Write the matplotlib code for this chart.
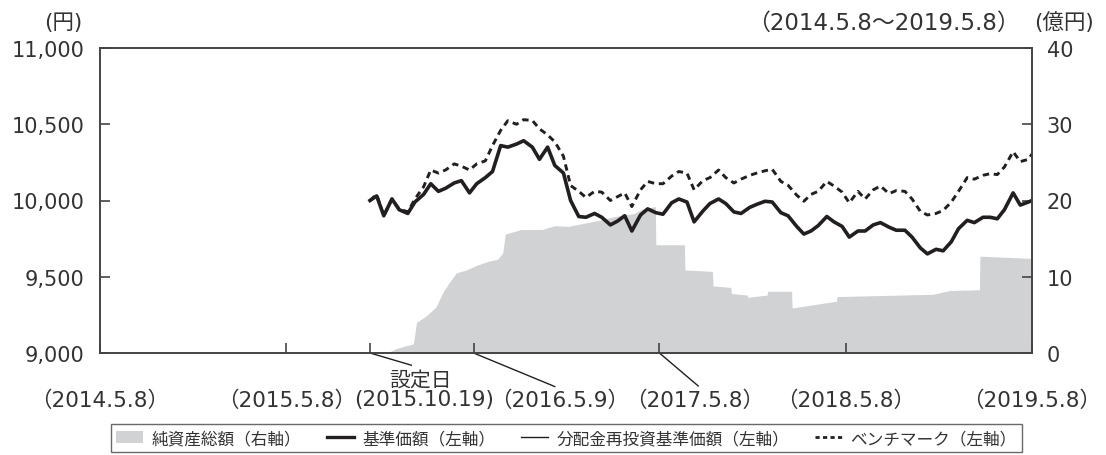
import matplotlib.pyplot as plt
from matplotlib.patches import Patch
from matplotlib.lines import Line2D
import pandas as pd

plt.rcParams["font.family"] = ["DejaVu Sans", "Noto Sans CJK JP"]

# semi-monthly sample dates between launch and the end of the period
price_dates = ([pd.Timestamp("2015-10-19")]
               + list(pd.date_range("2015-11-01", "2019-05-01", freq="SMS"))
               + [pd.Timestamp("2019-05-08")])

# 基準価額 (円)
base_price = [
    10000, 10030, 9900, 10010, 9940,
    9915, 9990, 10040, 10110, 10060, 10080, 10115, 10130, 10050, 10110, 10150, 10190,
    10360, 10350, 10370, 10392, 10350, 10270, 10350, 10230, 10180, 10000, 9895, 9890,
    9915, 9890, 9840, 9865, 9900, 9800, 9905, 9945, 9920, 9910, 9985, 10010,
    9990, 9860, 9930, 9980, 10010, 9980, 9925, 9915, 9955, 9975, 9995, 9990,
    9920, 9900, 9830, 9780, 9800, 9835, 9895, 9860, 9830, 9760, 9800, 9800,
    9840, 9855, 9825, 9805, 9805, 9760, 9690, 9650, 9680, 9670, 9730, 9815,
    9870, 9855, 9890, 9890, 9880, 9940, 10050, 9970, 9990, 10000,
]
# 分配金再投資基準価額 (no distributions -> same as base price)
reinvest_price = list(base_price)
# ベンチマーク
benchmark = [
    10000, 10040, 9900, 10010, 9945,
    9925, 10010, 10090, 10200, 10180, 10200, 10240, 10225, 10200, 10240, 10260, 10360,
    10460, 10523, 10500, 10530, 10525, 10470, 10430, 10385, 10290, 10098, 10060, 10020,
    10060, 10055, 10000, 10025, 10050, 9960, 10070, 10125, 10110, 10110, 10160, 10190,
    10180, 10070, 10130, 10150, 10200, 10150, 10115, 10140, 10165, 10180, 10195, 10205,
    10125, 10100, 10035, 9995, 10040, 10060, 10125, 10095, 10055, 9985, 10060, 10010,
    10070, 10095, 10045, 10065, 10060, 10010, 9930, 9905, 9915, 9935, 9990, 10060,
    10150, 10140, 10165, 10176, 10170, 10220, 10320, 10255, 10270, 10305,
]

# 純資産総額 (億円)
asset_dates = pd.to_datetime([
    "2015-10-19", "2015-11-25", "2015-12-10", "2016-01-12", "2016-01-18", "2016-02-05",
    "2016-02-25", "2016-03-10", "2016-03-25", "2016-04-05", "2016-04-25", "2016-05-15",
    "2016-06-05", "2016-06-25", "2016-07-05", "2016-07-10", "2016-08-10", "2016-09-20",
    "2016-10-15", "2016-11-10", "2016-12-10", "2017-01-10", "2017-02-10", "2017-03-20",
    "2017-04-05", "2017-04-30", "2017-05-01", "2017-06-26", "2017-06-27", "2017-08-20",
    "2017-08-21", "2017-09-25", "2017-09-26", "2017-10-27", "2017-10-28", "2017-12-05",
    "2017-12-06", "2018-01-22", "2018-01-23", "2018-04-20", "2018-04-21", "2018-10-26",
    "2018-11-28", "2019-01-25", "2019-01-26", "2019-05-08",
])
net_assets = [
    0, 0.1, 0.6, 1.2, 4.0, 4.8,
    6.0, 8.0, 9.5, 10.5, 10.9, 11.5,
    12.0, 12.3, 13.1, 15.6, 16.2, 16.2,
    16.7, 16.6, 17.0, 17.4, 17.9, 18.3,
    18.9, 19.2, 14.2, 14.2, 10.9, 10.7,
    8.8, 8.6, 7.8, 7.6, 7.3, 7.6,
    8.1, 8.1, 5.9, 6.8, 7.4, 7.7,
    8.2, 8.3, 12.7, 12.4,
]

tick_dates = pd.to_datetime(["2014-05-08", "2015-05-08", "2015-10-19", "2016-05-09",
                             "2017-05-08", "2018-05-08", "2019-05-08"])
tick_labels = ["（2014.5.8）", "（2015.5.8）", "(2015.10.19)", "（2016.5.9）",
               "（2017.5.8）", "（2018.5.8）", "（2019.5.8）"]

ink = "#231f20"
txt = "#333333"
gray = "#d1d2d4"

fig = plt.figure(figsize=(11.06, 4.56), dpi=100)
ax = fig.add_axes([100 / 1106, 1 - 354 / 456, 932 / 1106, 305 / 456])
ax2 = ax.twinx()

ax2.fill_between(asset_dates, net_assets, 0, color=gray, lw=0)
ax2.set_ylim(0, 40)
ax2.set_yticks([0, 10, 20, 30, 40])

ax.plot(price_dates, benchmark, color=ink, lw=2.1, ls=(0, (2.2, 1.6)))
ax.plot(price_dates, base_price, color=ink, lw=2.6)
ax.plot(price_dates, reinvest_price, color=ink, lw=1.0)
ax.set_zorder(ax2.get_zorder() + 1)
ax.patch.set_visible(False)

ax.set_ylim(9000, 11000)
ax.set_yticks([9000, 9500, 10000, 10500, 11000])
ax.set_yticklabels(["9,000", "9,500", "10,000", "10,500", "11,000"])
ax.set_xlim(tick_dates[0], tick_dates[-1])
ax.set_xticks(tick_dates)
ax.set_xticklabels([])

for a in (ax, ax2):
    for s in a.spines.values():
        s.set_color("#444444")
        s.set_linewidth(1.2)
ax.tick_params(axis="y", direction="in", length=7, width=1.2, color="#444444",
               labelsize=15, pad=11, labelcolor=txt)
ax2.tick_params(axis="y", direction="in", length=7, width=1.2, color="#444444",
                labelsize=15, pad=10.5, labelcolor=txt)
ax.tick_params(axis="x", direction="in", length=7, width=1.2, color="#444444")

# date labels under the axis, some moved aside with leader lines
label_x = pd.to_datetime(["2014-05-08", "2015-05-08", "2016-02-01", "2016-10-25",
                          "2017-07-15", "2018-05-08", "2019-05-08"])
for xd, lab in zip(label_x, tick_labels):
    ax.text(xd, -0.152, lab, transform=ax.get_xaxis_transform(), ha="center",
            va="center", fontsize=15.5, color=txt)
ax.text(pd.Timestamp("2016-01-26"), -0.086, "設定日", transform=ax.get_xaxis_transform(),
        ha="center", va="center", fontsize=15, color=txt)
leaders = [("2015-10-19", "2016-01-08", -0.040),
           ("2016-05-09", "2016-10-15", -0.110),
           ("2017-05-08", "2017-07-23", -0.108)]
for d0, d1, y1 in leaders:
    ax.plot([pd.Timestamp(d0), pd.Timestamp(d1)], [0, y1], color=ink, lw=1.0,
            transform=ax.get_xaxis_transform(), clip_on=False)

fig.text(63 / 1106, 1 - 23 / 456, "(円)", ha="center", va="center", fontsize=15.5, color=txt)
fig.text(1064 / 1106, 1 - 23 / 456, "(億円)", ha="center", va="center", fontsize=15.5, color=txt)
fig.text(883 / 1106, 1 - 23 / 456, "（2014.5.8～2019.5.8）", ha="center", va="center",
         fontsize=16.5, color=txt)

handles = [Patch(facecolor=gray, edgecolor="none"),
           Line2D([], [], color=ink, lw=2.4),
           Line2D([], [], color=ink, lw=1.0),
           Line2D([], [], color=ink, lw=2.0, ls=(0, (1.5, 1.2)))]
labels = ["純資産総額（右軸）", "基準価額（左軸）", "分配金再投資基準価額（左軸）", "ベンチマーク（左軸）"]
leg = fig.legend(handles, labels, loc="center", ncol=4, mode="expand",
                 bbox_to_anchor=(103 / 1106, 1 / 456, 927 / 1106, 32 / 456),
                 fontsize=12, frameon=True, fancybox=False, handlelength=1.6,
                 handletextpad=0.5, borderpad=0.3, columnspacing=1.0)
leg.get_frame().set_edgecolor("#444444")
leg.get_frame().set_linewidth(1.0)
for t in leg.get_texts():
    t.set_color(txt)

fig.savefig("out.png", dpi=100)
